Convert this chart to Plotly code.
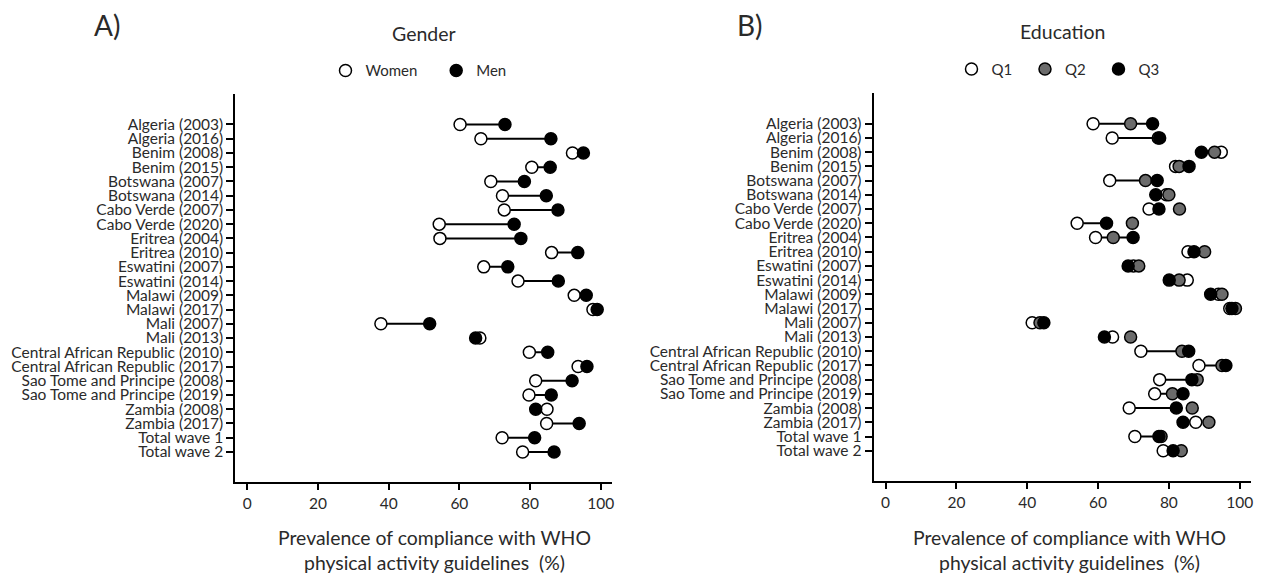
import plotly.graph_objects as go

labels = [
    "Algeria (2003)", "Algeria (2016)", "Benim (2008)", "Benim (2015)",
    "Botswana (2007)", "Botswana (2014)", "Cabo Verde (2007)", "Cabo Verde (2020)",
    "Eritrea (2004)", "Eritrea (2010)", "Eswatini (2007)", "Eswatini (2014)",
    "Malawi (2009)", "Malawi (2017)", "Mali (2007)", "Mali (2013)",
    "Central African Republic (2010)", "Central African Republic (2017)",
    "Sao Tome and Principe (2008)", "Sao Tome and Principe (2019)",
    "Zambia (2008)", "Zambia (2017)", "Total wave 1", "Total wave 2",
]

women = [60.2, 66.1, 92.0, 80.5, 68.9, 72.2, 72.7, 54.3, 54.5, 86.1, 66.9, 76.6,
         92.5, 97.8, 37.8, 65.8, 79.8, 93.6, 81.6, 79.7, 84.8, 84.7, 72.1, 77.9]
men = [72.9, 85.9, 95.1, 85.7, 78.4, 84.6, 87.9, 75.5, 77.4, 93.5, 73.7, 88.0,
       95.9, 99.0, 51.6, 64.6, 85.0, 96.1, 91.9, 86.0, 81.6, 93.9, 81.3, 86.8]

q1 = [58.6, 64.0, 94.8, 81.9, 63.3, 79.3, 74.4, 54.1, 59.3, 85.4, 70.0, 85.2,
      94.0, 97.2, 41.4, 64.1, 72.1, 88.5, 77.4, 76.0, 68.8, 87.6, 70.4, 78.4]
q2 = [69.2, 77.0, 92.9, 82.9, 73.4, 80.0, 83.0, 69.7, 64.3, 90.1, 71.5, 82.9,
      95.0, 98.8, 43.6, 69.2, 83.7, 95.0, 88.0, 81.0, 86.6, 91.3, 77.8, 83.5]
q3 = [75.4, 77.4, 89.2, 85.7, 76.7, 76.3, 77.2, 62.4, 69.9, 87.1, 68.5, 80.1,
      91.8, 97.8, 44.7, 61.8, 85.6, 96.1, 86.5, 84.0, 82.1, 84.0, 77.2, 81.2]

x_ticks = [0, 20, 40, 60, 80, 100]

# page has an 8px body margin: the figure is sized so that it fills the window
OFF = 8
W, H = 1262 - OFF, 576 - OFF
FONT = "Lato"
TXT = "#2a2a2a"

def px(x):
    return (x - OFF) / W

def py(y):
    return 1 - (y - OFF) / H

rows = list(range(len(labels)))

def seg(a, b):
    xs, ys = [], []
    for i, (u, v) in enumerate(zip(a, b)):
        xs += [u, v, None]
        ys += [i, i, None]
    return xs, ys

fig = go.Figure()

mk = dict(size=12, line=dict(color="black", width=1.5))

# Panel A
lx, ly = seg(women, men)
fig.add_trace(go.Scatter(x=lx, y=ly, mode="lines", line=dict(color="black", width=2),
                         showlegend=False, hoverinfo="skip", xaxis="x", yaxis="y"))
fig.add_trace(go.Scatter(x=women, y=rows, mode="markers", name="Women",
                         marker=dict(color="white", **mk), xaxis="x", yaxis="y", legend="legend"))
fig.add_trace(go.Scatter(x=men, y=rows, mode="markers", name="Men",
                         marker=dict(color="black", **mk), xaxis="x", yaxis="y", legend="legend"))

# Panel B
lx2, ly2 = seg(q1, q3)
fig.add_trace(go.Scatter(x=lx2, y=ly2, mode="lines", line=dict(color="black", width=2),
                         showlegend=False, hoverinfo="skip", xaxis="x2", yaxis="y2"))
fig.add_trace(go.Scatter(x=q1, y=rows, mode="markers", name="Q1",
                         marker=dict(color="white", **mk), xaxis="x2", yaxis="y2", legend="legend2"))
fig.add_trace(go.Scatter(x=q2, y=rows, mode="markers", name="Q2",
                         marker=dict(color="#6b6b6b", **mk), xaxis="x2", yaxis="y2", legend="legend2"))
fig.add_trace(go.Scatter(x=q3, y=rows, mode="markers", name="Q3",
                         marker=dict(color="black", **mk), xaxis="x2", yaxis="y2", legend="legend2"))

n = len(labels)
yrange = [n - 1 + 2.13, -2.14]

def xax(domain, anchor, xr):
    return dict(domain=domain, anchor=anchor, range=xr, showline=True, linecolor="black",
                linewidth=2, ticks="outside", ticklen=6, tickwidth=1.5, tickcolor="black",
                tickvals=x_ticks, showgrid=False, zeroline=False,
                tickfont=dict(family=FONT, size=15.5, color=TXT))

def yax(domain, anchor):
    return dict(domain=domain, anchor=anchor, range=yrange, showline=True, linecolor="black",
                linewidth=2, ticks="outside", ticklen=7, tickwidth=1.5, tickcolor="black",
                tickvals=rows, ticktext=labels, showgrid=False, zeroline=False,
                tickfont=dict(family=FONT, size=15.5, color=TXT))

fig.update_layout(
    width=W, height=H, margin=dict(l=0, r=0, t=0, b=0),
    plot_bgcolor="white", paper_bgcolor="white",
    font=dict(family=FONT, color=TXT),
    xaxis=xax([px(235.7), px(613)], "y", [-3.39, 103.2]),
    yaxis=yax([py(482.3), py(94)], "x"),
    xaxis2=xax([px(875), px(1253)], "y2", [-3.38, 103.2]),
    yaxis2=yax([py(481), py(93.3)], "x2"),
    legend=dict(orientation="h", x=px(326), xanchor="left", y=py(70.7), yanchor="middle",
                entrywidth=65.7, font=dict(family=FONT, size=15, color=TXT),
                bgcolor="rgba(0,0,0,0)", borderwidth=0, traceorder="normal"),
    legend2=dict(orientation="h", x=px(953), xanchor="left", y=py(69.3), yanchor="middle",
                 entrywidth=28.5, font=dict(family=FONT, size=15, color=TXT),
                 bgcolor="rgba(0,0,0,0)", borderwidth=0, traceorder="normal"),
)

ann = [
    dict(text="A)", x=px(92), y=py(25), xanchor="left", yanchor="middle", size=28),
    dict(text="B)", x=px(736), y=py(25), xanchor="left", yanchor="middle", size=28),
    dict(text="Gender", x=px(425), y=py(33), xanchor="center", yanchor="middle", size=19.5),
    dict(text="Education", x=px(1064.5), y=py(32), xanchor="center", yanchor="middle", size=19.5),
    dict(text="Prevalence of compliance with WHO<br>physical activity guidelines  (%)",
         x=px(435), y=py(550), xanchor="center", yanchor="middle", size=19.4),
    dict(text="Prevalence of compliance with WHO<br>physical activity guidelines  (%)",
         x=px(1071), y=py(550), xanchor="center", yanchor="middle", size=19.4),
]
for a in ann:
    fig.add_annotation(text=a["text"], x=a["x"], y=a["y"], xref="paper", yref="paper",
                       xanchor=a["xanchor"], yanchor=a["yanchor"], showarrow=False,
                       font=dict(family=FONT, size=a["size"], color=TXT))

fig.write_html("out.html")
